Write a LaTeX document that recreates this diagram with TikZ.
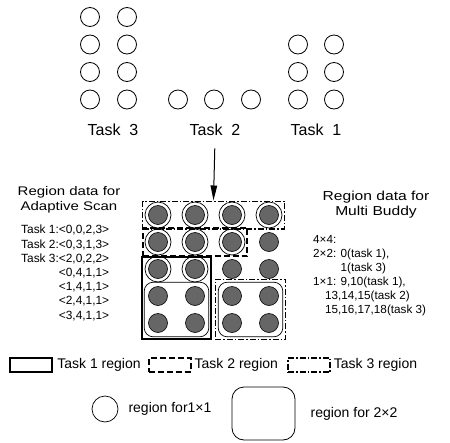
\documentclass[tikz,border=0pt]{standalone}
\usepackage{fontspec}
\setmainfont{Liberation Sans}
\newfontfamily\widefont[FakeStretch=1.2]{Liberation Sans}
\usetikzlibrary{arrows.meta,fit}

\begin{document}
\begin{tikzpicture}[x=1pt,y=-1pt,
  proc/.style={circle,draw,line width=0.8pt,minimum size=19pt,inner sep=0pt},
  dot/.style={circle,draw,line width=0.6pt,fill=black!60,minimum size=19pt,inner sep=0pt},
  ring/.style={circle,draw,line width=0.7pt,minimum size=26pt,inner sep=0pt},
  buddy/.style={draw,line width=0.7pt,rounded corners=9pt,inner sep=4pt},
  taskone/.style={draw,line width=2.4pt},
  tasktwo/.style={draw,line width=2pt,dash pattern=on 6pt off 3pt},
  taskthree/.style={draw,line width=1.4pt,dash pattern=on 6pt off 2pt on 1.5pt off 2pt},
  toplabel/.style={font=\fontsize{16}{18}\selectfont},
  legtext/.style={font=\fontsize{14}{16}\selectfont,anchor=west,inner sep=0pt}]
  \useasboundingbox (0,0) rectangle (450,442);

  % processors waiting for allocation
  \foreach \y in {17,44.5,72,99.5} {
    \node[proc] at (90,\y) {};
    \node[proc] at (127,\y) {};
  }
  \foreach \x in {178,214,251}
    \node[proc] at (\x,99.5) {};
  \foreach \y in {44.5,72,99.5} {
    \node[proc] at (298,\y) {};
    \node[proc] at (334,\y) {};
  }
  \node[toplabel] (lbl3) at (113,130) {Task~~3};
  \node[toplabel] (lbl2) at (215,130) {Task~~2};
  \node[toplabel] (lbl1) at (316,130) {Task~~1};

  % the mesh
  \foreach \r in {0,...,4}
    \foreach \c in {0,...,3}
      \node[dot] (d\r\c) at ({158+37*\c},{215+27*\r}) {};
  \foreach \r/\c in {0/0,0/1,0/2,0/3,1/0,1/1,1/2,2/0,2/1}
    \node[ring] at (d\r\c) {};
  \node[buddy,fit=(d30)(d41)] (b1) {};
  \node[buddy,fit=(d32)(d43)] (b2) {};

  \node[taskthree,fit=(d00)(d03),inner xsep=5.5pt,inner ysep=4pt] (t3a) {};
  \node[tasktwo,fit=(d10)(d12),inner xsep=5.5pt,inner ysep=4.5pt] (t2) {};
  \node[taskone,fit=(d20)(b1),inner sep=2pt] (t1) {};
  \node[taskthree,fit=(b2),inner sep=2.5pt] (t3b) {};

  \draw[line width=1pt,-{Triangle[length=15pt,width=6.5pt]},shorten <=9pt] (lbl2.south) -- (t3a.north);

  % region data
  \node[font=\widefont\fontsize{12.5}{15}\selectfont,align=center] (hscan) at (69,200)
    {Region data for\\Adaptive Scan};
  \node[font=\fontsize{11.9}{14.2}\selectfont,align=left,anchor=north west,inner sep=0pt] (scan) at (21,225)
    {Task 1:<0,0,2,3>\\Task 2:<0,3,1,3>\\Task 3:<2,0,2,2>\\
     \phantom{Task 3:}<0,4,1,1>\\\phantom{Task 3:}<1,4,1,1>\\
     \phantom{Task 3:}<2,4,1,1>\\\phantom{Task 3:}<3,4,1,1>};
  \node[font=\widefont\fontsize{13}{15}\selectfont,align=center] (hbuddy) at (376,205)
    {Region data for\\Multi Buddy};
  \node[font=\fontsize{11.7}{14}\selectfont,align=left,anchor=north west,inner sep=0pt] (buddy) at (313,235)
    {4×4:\\2×2: 0(task 1),\\\phantom{2×2: }1(task 3)\\1×1: 9,10(task 1),\\
     \hspace{12pt}13,14,15(task 2)\\\hspace{12pt}15,16,17,18(task 3)};

  % legend
  \node[taskone,minimum width=42pt,minimum height=14pt,inner sep=0pt] (l1) at (31,365) {};
  \node[legtext] at ([xshift=4pt]l1.east) {Task 1 region};
  \node[tasktwo,minimum width=42pt,minimum height=14pt,inner sep=0pt] (l2) at (169.5,365) {};
  \node[legtext] at ([xshift=3pt]l2.east) {Task 2 region};
  \node[taskthree,minimum width=42pt,minimum height=14pt,inner sep=0pt] (l3) at (309,365) {};
  \node[legtext] at ([xshift=3pt]l3.east) {Task 3 region};

  \node[ring] (l4) at (105,409) {};
  \node[legtext] at ([xshift=10pt]l4.east) {region for1×1};
  \node[draw,line width=0.8pt,rounded corners=12pt,minimum width=63pt,minimum height=53pt] (l5) at (263.5,413.5) {};
  \node[legtext] at ([xshift=15pt]l5.east) {region for 2×2};
\end{tikzpicture}
\end{document}
